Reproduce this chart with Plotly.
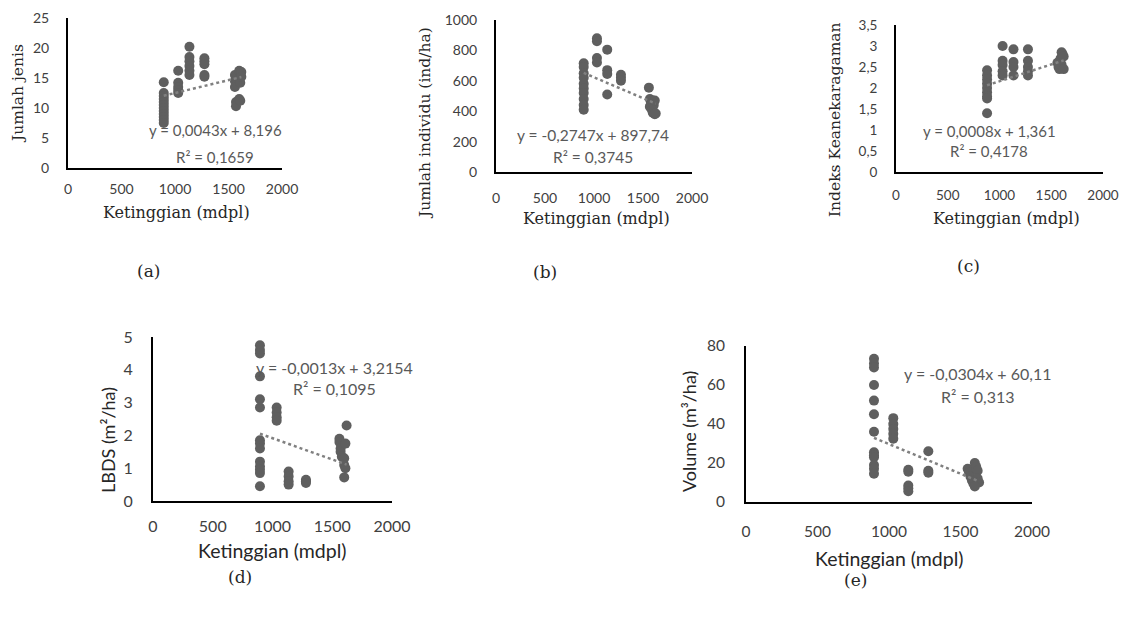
import plotly.graph_objects as go

# ---------------- data ----------------
elev_a = [895]*12 + [1030]*5 + [1135]*6 + [1275]*5 + [1560, 1560, 1560, 1570, 1570, 1600, 1600, 1600, 1610, 1610, 1610, 1620, 1620]
jenis = [14.3, 12.5, 12.0, 11.5, 11.0, 10.5, 10.0, 9.5, 9.0, 8.5, 8.0, 7.5,
         16.2, 14.2, 13.5, 13.0, 12.5,
         20.2, 18.5, 17.8, 17.0, 16.2, 15.5,
         18.3, 17.8, 17.3, 15.5, 15.2,
         15.5, 14.5, 13.5, 11.0, 10.3, 16.2, 15.0, 11.5, 15.8, 14.2, 11.2, 16.0, 15.2]

elev_b = [895]*10 + [1030]*4 + [1135]*4 + [1275]*3 + [1560, 1570, 1570, 1580, 1590, 1600, 1600, 1610, 1620, 1620, 1630]
individu = [715, 690, 650, 620, 580, 550, 520, 480, 440, 410,
            880, 860, 750, 720,
            805, 670, 645, 510,
            640, 620, 600,
            555, 480, 430, 460, 410, 470, 390, 440, 470, 380, 385]

elev_c = [880]*9 + [1030]*5 + [1135]*4 + [1275]*5 + [1560, 1570, 1580, 1590, 1600, 1600, 1610, 1620, 1620]
indeks = [2.42, 2.3, 2.2, 2.1, 2.0, 1.9, 1.8, 1.75, 1.4,
          3.0, 2.65, 2.55, 2.4, 2.3,
          2.92, 2.62, 2.5, 2.3,
          2.92, 2.65, 2.5, 2.4, 2.3,
          2.6, 2.5, 2.45, 2.7, 2.85, 2.55, 2.8, 2.75, 2.45]

elev_d = [895]*14 + [1035]*4 + [1135]*4 + [1280]*3 + [1560, 1560, 1570, 1570, 1580, 1600, 1600, 1600, 1610, 1620, 1610]
lbds = [4.75, 4.6, 4.5, 3.8, 3.1, 2.85, 1.85, 1.75, 1.6, 1.2, 1.05, 0.95, 0.85, 0.45,
        2.85, 2.7, 2.55, 2.45,
        0.9, 0.75, 0.6, 0.5,
        0.65, 0.6, 0.55,
        1.9, 1.8, 1.6, 1.5, 1.35, 1.3, 1.1, 0.72, 1.75, 2.3, 1.0]

elev_e = [895]*13 + [1030]*5 + [1135]*5 + [1275]*3 + [1550, 1560, 1570, 1580, 1590, 1600, 1610, 1620, 1620, 1630, 1600]
volume = [73.5, 71, 69, 60, 52, 45, 36, 25.5, 24, 23, 19, 17, 14.5,
          43, 40, 37.5, 35, 32.5,
          16.5, 15.5, 8.5, 7, 5.5,
          26, 16, 15,
          17, 15, 13, 11, 9.5, 20, 18, 16, 12, 10, 8]

slopes = [0.0043, -0.2747, 0.0008, -0.0013, -0.0304]
intercepts = [8.196, 897.74, 1.361, 3.2154, 60.11]
equations = ["y = 0,0043x + 8,196", "y = -0,2747x + 897,74", "y = 0,0008x + 1,361",
             "y = -0,0013x + 3,2154", "y = -0,0304x + 60,11"]
r2_texts = ["R² = 0,1659", "R² = 0,3745", "R² = 0,4178", "R² = 0,1095", "R² = 0,313"]

y_titles = ["Jumlah jenis", "Jumlah individu (ind/ha)", "Indeks Keanekaragaman",
            "LBDS (m²/ha)", "Volume (m³/ha)"]
x_title = "Ketinggian (mdpl)"
panel_labels = ["(a)", "(b)", "(c)", "(d)", "(e)"]

x_ticks = [0, 500, 1000, 1500, 2000]
x_ticktext = ["0", "500", "1000", "1500", "2000"]
y_ticks = [
    [0, 5, 10, 15, 20, 25],
    [0, 200, 400, 600, 800, 1000],
    [0, 0.5, 1, 1.5, 2, 2.5, 3, 3.5],
    [0, 1, 2, 3, 4, 5],
    [0, 20, 40, 60, 80],
]
y_ticktext = [
    ["0", "5", "10", "15", "20", "25"],
    ["0", "200", "400", "600", "800", "1000"],
    ["0", "0,5", "1", "1,5", "2", "2,5", "3", "3,5"],
    ["0", "1", "2", "3", "4", "5"],
    ["0", "20", "40", "60", "80"],
]

xs = [elev_a, elev_b, elev_c, elev_d, elev_e]
ys = [jenis, individu, indeks, lbds, volume]

# ---------------- layout geometry (pixels) ----------------
W, H = 1121, 624
boxes = [  # left, right, top, bottom in px
    (68, 282, 18, 168),
    (496, 692, 20, 172),
    (896, 1103, 25, 172),
    (153, 392, 337, 501),
    (746, 1032, 346, 502),
]
serif = "DejaVu Serif"
sans = "Lato"
title_fonts = [serif, serif, serif, sans, sans]
ytitle_size = [15.5, 15.5, 15.5, 18, 18]
xtitle_size = [16, 16, 16, 19.5, 19.5]
tick_size = [14, 14, 13.5, 16, 15.5]
eq_size = [15, 15.5, 15, 16, 16]
xtick_len = [7, 12, 10, 10, 14]
ytick_len = [14, 14, 14, 15, 16]
ytitle_pos = [(18, 94), (425, 123), (835, 120), (108, 440), (689, 432)]
xtitle_pos = [(176, 212), (596, 218), (1006, 218), (272, 550), (889, 558)]
label_pos = [(148, 271), (545, 272), (968, 266), (240, 577), (855, 580)]
eq_pos = [(1378, 6.3, 1.8), (990, 243, 99), (900, 0.97, 0.51), (1515, 4.08, 3.44), (1622, 66, 54)]

fig = go.Figure()
layout = dict(
    width=W, height=H, margin=dict(l=0, r=0, t=0, b=0, autoexpand=False),
    paper_bgcolor="white", plot_bgcolor="white", showlegend=False,
    annotations=[],
)

mark_color = "#5f5f5f"
for i in range(5):
    n = "" if i == 0 else str(i + 1)
    xa, ya = "x" + n, "y" + n
    fig.add_trace(go.Scatter(x=xs[i], y=ys[i], mode="markers", xaxis=xa, yaxis=ya,
                             marker=dict(size=10, color=mark_color, line=dict(width=0))))
    x0, x1 = min(xs[i]), max(xs[i])
    fig.add_trace(go.Scatter(x=[x0, x1], y=[slopes[i] * x0 + intercepts[i], slopes[i] * x1 + intercepts[i]],
                             mode="lines", xaxis=xa, yaxis=ya,
                             line=dict(color="#808080", width=2.5, dash="dot")))
    l, r, t, b = boxes[i]
    tick_color = "#404040"
    layout["xaxis" + n] = dict(
        domain=[l / W, r / W], anchor=ya, range=[0, 2000],
        tickvals=x_ticks, ticktext=x_ticktext, showgrid=False, zeroline=False,
        showline=True, linecolor="black", linewidth=2,
        ticks="outside", ticklen=xtick_len[i], tickcolor="rgba(0,0,0,0)",
        tickfont=dict(family=sans, size=tick_size[i], color=tick_color),
    )
    layout["yaxis" + n] = dict(
        domain=[(H - b) / H, (H - t) / H], anchor=xa, range=[0, y_ticks[i][-1]],
        tickvals=y_ticks[i], ticktext=y_ticktext[i], showgrid=False, zeroline=False,
        showline=True, linecolor="black", linewidth=2,
        ticks="outside", ticklen=ytick_len[i], tickcolor="rgba(0,0,0,0)",
        tickfont=dict(family=sans, size=tick_size[i], color=tick_color),
    )
    px, py = ytitle_pos[i]
    layout["annotations"].append(dict(
        text=y_titles[i], x=px / W, y=(H - py) / H, xref="paper", yref="paper",
        textangle=-90, showarrow=False, xanchor="center", yanchor="middle",
        font=dict(family=title_fonts[i], size=ytitle_size[i], color="#262626")))
    px, py = xtitle_pos[i]
    layout["annotations"].append(dict(
        text=x_title, x=px / W, y=(H - py) / H, xref="paper", yref="paper",
        showarrow=False, xanchor="center", yanchor="middle",
        font=dict(family=title_fonts[i], size=xtitle_size[i], color="#262626")))
    px, py = label_pos[i]
    layout["annotations"].append(dict(
        text=panel_labels[i], x=px / W, y=(H - py) / H, xref="paper", yref="paper",
        showarrow=False, xanchor="center", yanchor="middle",
        font=dict(family=serif, size=17, color="#262626")))
    ex, ey1, ey2 = eq_pos[i]
    layout["annotations"].append(dict(
        text=equations[i], x=ex, y=ey1, xref=xa, yref=ya, showarrow=False,
        xanchor="center", yanchor="middle",
        font=dict(family=sans, size=eq_size[i], color="#595959")))
    layout["annotations"].append(dict(
        text=r2_texts[i], x=ex, y=ey2, xref=xa, yref=ya, showarrow=False,
        xanchor="center", yanchor="middle",
        font=dict(family=sans, size=eq_size[i], color="#595959")))

fig.update_layout(**layout)
fig.write_html(
    "out.html",
    config={"displayModeBar": False},
    post_script="document.body.style.margin='0px';document.documentElement.style.overflow='hidden';document.body.style.overflow='hidden';",
)
